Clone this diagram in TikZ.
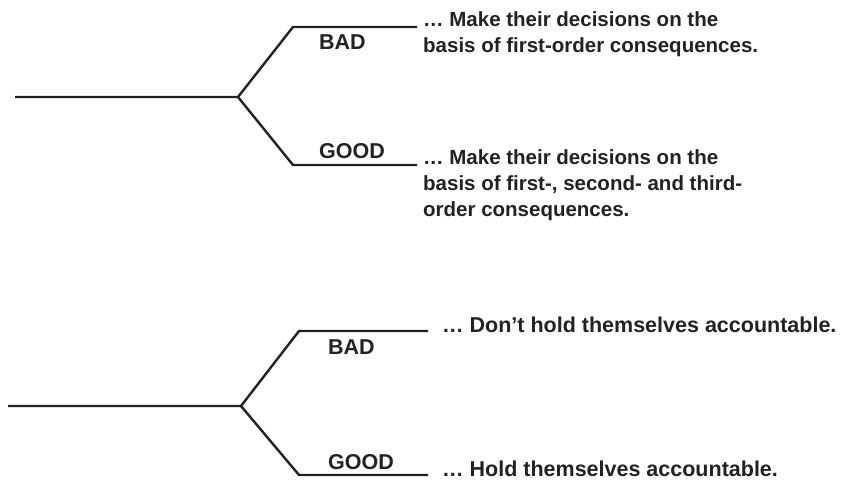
\documentclass[tikz,border=0pt]{standalone}
\usepackage{fontspec}
\setmainfont{Liberation Sans}
\definecolor{ink}{HTML}{222222}
\begin{document}
\begin{tikzpicture}[x=1pt,y=-1pt,
  branch/.style={draw=ink,line width=2.4pt,line join=miter},
  lbl/.style={anchor=west,inner sep=0pt,text=ink,font=\bfseries\fontsize{21.5}{26}\selectfont},
  txt/.style={anchor=west,inner sep=0pt,text=ink,align=left,font=\bfseries\fontsize{20.5}{26}\selectfont},
  txtb/.style={anchor=west,inner sep=0pt,text=ink,font=\bfseries\fontsize{21.5}{26}\selectfont}]
\useasboundingbox (0,0) rectangle (844,481);
% top tree
\coordinate (r1) at (15,97);
\coordinate (f1) at (238,97);
\coordinate (u1) at (293,27);
\coordinate (ue1) at (417,27);
\coordinate (d1) at (293,165);
\coordinate (de1) at (417,165);
\draw[branch] (r1) -- (f1) -- (u1) -- (ue1);
\draw[branch] (f1) -- (d1) -- (de1);
\node[lbl] (bad1) at (319,42) {BAD};
\node[lbl] (good1) at (319,151) {GOOD};
\node[txt] (t1) at (423,34) {\dots\ Make their decisions on the\\basis of first-order consequences.};
\node[txt] (t2) at (423,185) {\dots\ Make their decisions on the\\basis of first-, second- and third-\\order consequences.};
% bottom tree
\coordinate (r2) at (8,406);
\coordinate (f2) at (241,406);
\coordinate (u2) at (299,331);
\coordinate (ue2) at (428,331);
\coordinate (d2) at (299,475);
\coordinate (de2) at (428,475);
\draw[branch] (r2) -- (f2) -- (u2) -- (ue2);
\draw[branch] (f2) -- (d2) -- (de2);
\node[lbl] (bad2) at (328,347) {BAD};
\node[lbl] (good2) at (328,462) {GOOD};
\node[txtb] (t3) at (442,325) {\dots\ Don't hold themselves accountable.};
\node[txtb] (t4) at (442,469) {\dots\ Hold themselves accountable.};
\end{tikzpicture}
\end{document}
